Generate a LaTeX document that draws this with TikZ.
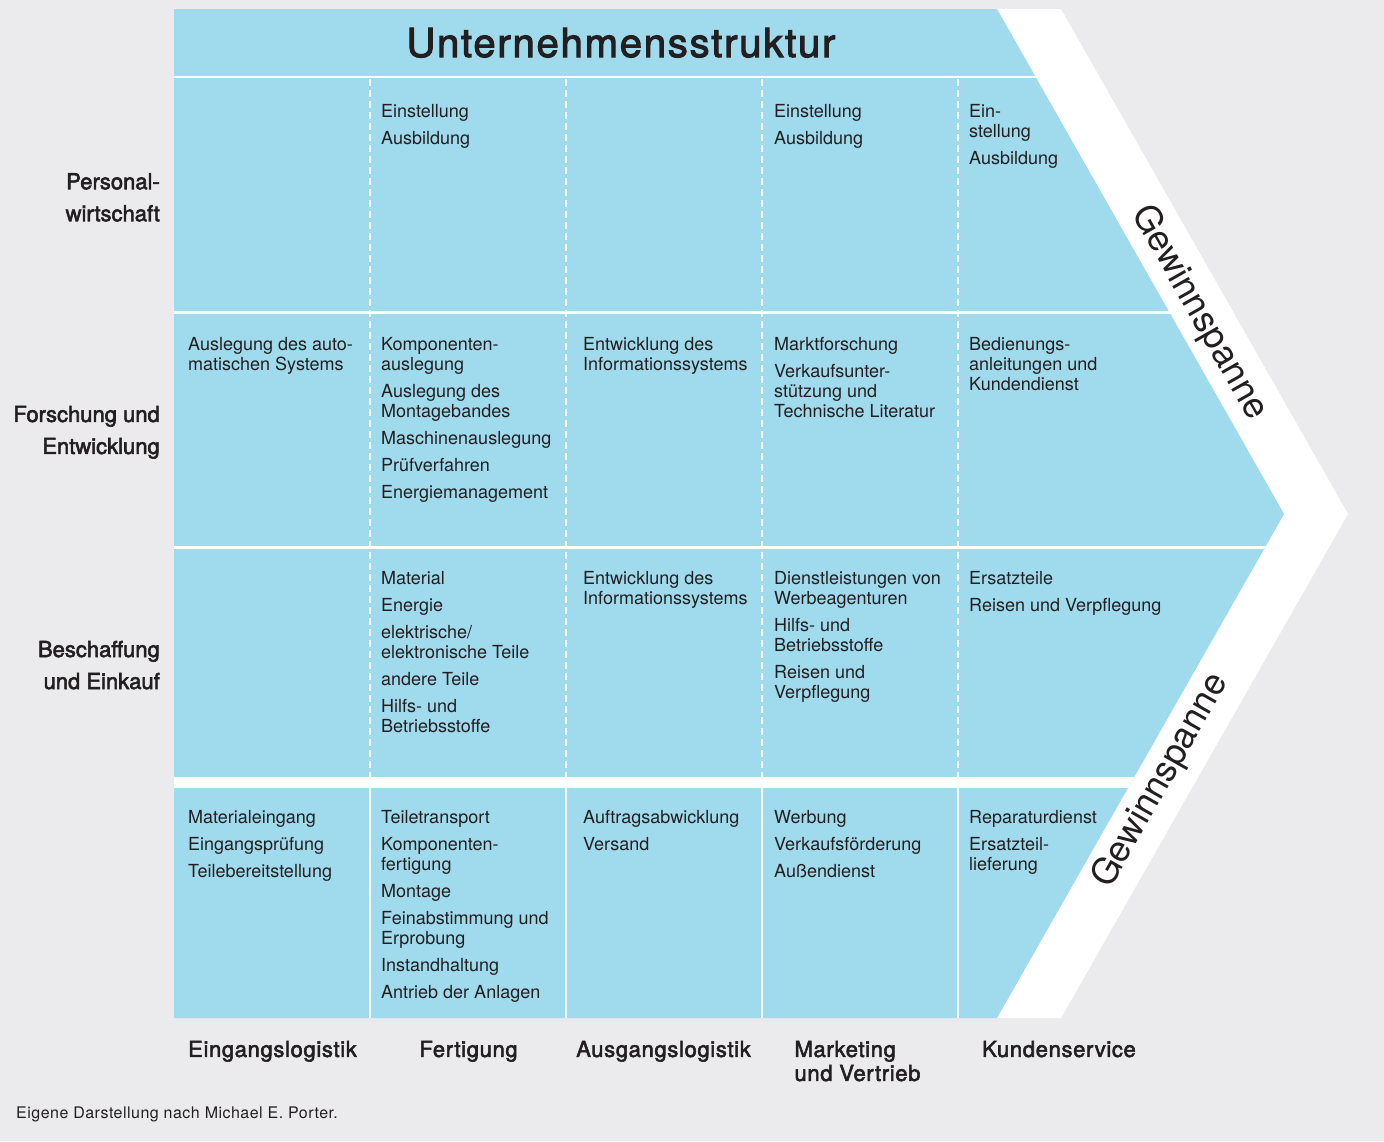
\documentclass[tikz,border=0pt]{standalone}
\usepackage{fontspec}
\setmainfont{TeX Gyre Heros}
\newfontface\medfont{TeX Gyre Heros}[FakeBold=2.5]
\newfontface\labfont{TeX Gyre Heros}[FakeBold=2.5, LetterSpace=3]
\newfontface\titlefont{TeX Gyre Heros}[FakeBold=2.5, LetterSpace=4.5]
\newfontface\footfont{TeX Gyre Heros}[LetterSpace=3]
\definecolor{bg}{RGB}{235,235,237}
\definecolor{vblue}{RGB}{160,218,237}
\definecolor{ink}{RGB}{35,31,32}
\newcommand{\fl}{\rule{0pt}{13pt}}
\newcommand{\flb}{\rule{0pt}{16pt}}
\tikzset{
  cell/.style={anchor=north west, inner sep=0pt, align=left, text=ink,
    font=\fontsize{18}{20}\selectfont},
  rowlab/.style={anchor=north east, inner sep=0pt, align=right, text=ink,
    font=\fontsize{22}{32}\selectfont\medfont},
  collab/.style={anchor=north, inner sep=0pt, align=left, text=ink,
    font=\fontsize{22}{24}\selectfont\labfont},
  margin/.style={inner sep=0pt, text=ink, font=\fontsize{36}{40}\selectfont},
  sepline/.style={white, line width=2.5pt},
  dashsep/.style={white, line width=2pt, dash pattern=on 7pt off 4pt},
  solidsep/.style={white, line width=2pt}
}
\begin{document}
\begin{tikzpicture}[x=1pt, y=-1pt]
\fill[bg] (0,0) rectangle (1384,1141);
\useasboundingbox (0,0) rectangle (1384,1141);
% chevron band
\fill[white] (997,9) -- (1061,9) -- (1348,514) -- (1061,1018) -- (997,1018) -- (1284,514) -- cycle;
\fill[vblue] (174,9) -- (997,9) -- (1284,514) -- (997,1018) -- (174,1018) -- cycle;
\begin{scope}
  \clip (174,9) -- (997,9) -- (1284,514) -- (997,1018) -- (174,1018) -- cycle;
  \draw[sepline] (170,77) -- (1400,77);
  \draw[sepline] (170,312.5) -- (1400,312.5);
  \draw[sepline] (170,547.5) -- (1400,547.5);
  \fill[white] (170,777) rectangle (1400,788);
\end{scope}
\foreach \x in {370,566,762,958} {
  \draw[dashsep] (\x,79) -- (\x,777);
  \draw[solidsep] (\x,788) -- (\x,1018);
}
% title
\node[inner sep=0pt, anchor=base, text=ink, font=\fontsize{40}{44}\selectfont\titlefont] (title) at (621,57) {Unternehmensstruktur};
% row labels
\node[rowlab] (lab1) at (160,173) {\flb Personal-\\wirtschaft};
\node[rowlab] (lab2) at (160,405.7) {\flb Forschung und\\Entwicklung};
\node[rowlab] (lab3) at (160,640.7) {\flb Beschaffung\\und Einkauf};
% column labels
\node[collab] (c1) at (272.5,1040.7) {\flb Eingangslogistik};
\node[collab] (c2) at (468.5,1040.7) {\flb Fertigung};
\node[collab] (c3) at (663.5,1040.7) {\flb Ausgangslogistik};
\node[collab] (c4) at (857.5,1040.7) {\flb Marketing\\und Vertrieb};
\node[collab] (c5) at (1059,1040.7) {\flb Kundenservice};
% row 1
\node[cell] (r1c2) at (381,104.5) {\fl Einstellung\\[7pt]Ausbildung};
\node[cell] (r1c4) at (774,104.5) {\fl Einstellung\\[7pt]Ausbildung};
\node[cell] (r1c5) at (969,104.5) {\fl Ein-\\stellung\\[7pt]Ausbildung};
% row 2
\node[cell] (r2c1) at (188,337.5) {\fl Auslegung des auto-\\matischen Systems};
\node[cell] (r2c2) at (381,337.5) {\fl Komponenten-\\auslegung\\[7pt]Auslegung des\\Montagebandes\\[7pt]Maschinenauslegung\\[7pt]Prüfverfahren\\[7pt]Energiemanagement};
\node[cell] (r2c3) at (583,337.5) {\fl Entwicklung des\\Informationssystems};
\node[cell] (r2c4) at (774,337.5) {\fl Marktforschung\\[7pt]Verkaufsunter-\\stützung und\\Technische Literatur};
\node[cell] (r2c5) at (969,337.5) {\fl Bedienungs-\\anleitungen und\\Kundendienst};
% row 3
\node[cell] (r3c2) at (381,571.5) {\fl Material\\[7pt]Energie\\[7pt]elektrische/\\elektronische Teile\\[7pt]andere Teile\\[7pt]Hilfs- und\\Betriebsstoffe};
\node[cell] (r3c3) at (583,571.5) {\fl Entwicklung des\\Informationssystems};
\node[cell] (r3c4) at (774,571.5) {\fl Dienstleistungen von\\Werbeagenturen\\[7pt]Hilfs- und\\Betriebsstoffe\\[7pt]Reisen und\\Verpflegung};
\node[cell] (r3c5) at (969,571.5) {\fl Ersatzteile\\[7pt]Reisen und Verpflegung};
% row 4
\node[cell] (r4c1) at (188,810.5) {\fl Materialeingang\\[7pt]Eingangsprüfung\\[7pt]Teilebereitstellung};
\node[cell] (r4c2) at (381,810.5) {\fl Teiletransport\\[7pt]Komponenten-\\fertigung\\[7pt]Montage\\[7pt]Feinabstimmung und\\Erprobung\\[7pt]Instandhaltung\\[7pt]Antrieb der Anlagen};
\node[cell] (r4c3) at (583,810.5) {\fl Auftragsabwicklung\\[7pt]Versand};
\node[cell] (r4c4) at (774,810.5) {\fl Werbung\\[7pt]Verkaufsförderung\\[7pt]Außendienst};
\node[cell] (r4c5) at (969,810.5) {\fl Reparaturdienst\\[7pt]Ersatzteil-\\lieferung};
% margin labels
\node[margin, rotate=-60.4] (m1) at (1199,313) {Gewinnspanne};
\node[margin, rotate=60.4] (m2) at (1161,781) {Gewinnspanne};
% footer
\node[inner sep=0pt, anchor=base west, text=ink, font=\fontsize{16}{18}\selectfont\footfont] (foot) at (16,1118.3) {Eigene Darstellung nach Michael E. Porter.};
\end{tikzpicture}
\end{document}
